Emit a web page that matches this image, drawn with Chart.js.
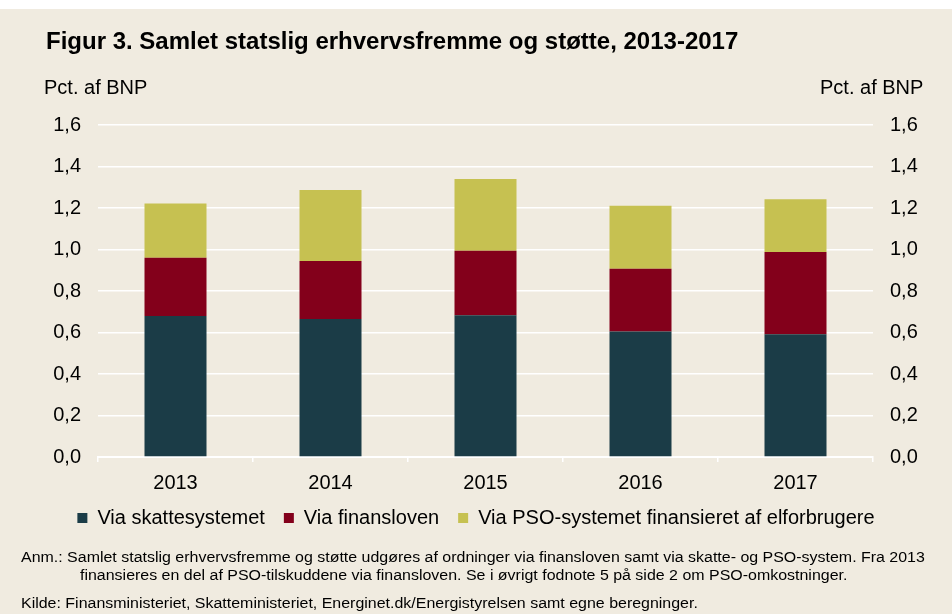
<!DOCTYPE html>
<html>
<head>
<meta charset="utf-8">
<script src="https://cdn.jsdelivr.net/npm/chart.js@4/dist/chart.umd.min.js"></script>
<style>
  html, body { margin: 0; padding: 0; background: #ffffff; }
  #wrap { position: relative; width: 952px; height: 614px; background: #ffffff; overflow: hidden; font-family: "Liberation Sans", Arial, sans-serif; color: #000; }
  #bg { position: absolute; left: 0; top: 9px; width: 952px; height: 605px; background: #f0ebe0; }
  #c { position: absolute; left: 0; top: 0; }
  .t { position: absolute; white-space: nowrap; line-height: 1; }
  #title { left: 46px; top: 29px; font-size: 24px; font-weight: bold; }
  #ylab { left: 44px; top: 77px; font-size: 20px; }
  #ylab2 { left: 820px; top: 77px; font-size: 20px; }
  .note { font-size: 14px; transform: scaleX(1.14); transform-origin: 0 0; }
</style>
</head>
<body>
<div id="wrap">
  <div id="bg"></div>
  <canvas id="c" width="952" height="614"></canvas>
  <div class="t" id="title">Figur 3. Samlet statslig erhvervsfremme og støtte, 2013-2017</div>
  <div class="t" id="ylab">Pct. af BNP</div>
  <div class="t" id="ylab2">Pct. af BNP</div>
  <div class="t note" style="left:21px; top:550px;">Anm.: Samlet statslig erhvervsfremme og støtte udgøres af ordninger via finansloven samt via skatte- og PSO-system. Fra 2013</div>
  <div class="t note" style="left:80px; top:568px;">finansieres en del af PSO-tilskuddene via finansloven. Se i øvrigt fodnote 5 på side 2 om PSO-omkostninger.</div>
  <div class="t note" style="left:21px; top:596px;">Kilde: Finansministeriet, Skatteministeriet, Energinet.dk/Energistyrelsen samt egne beregninger.</div>
</div>
<script>
const years = ["2013", "2014", "2015", "2016", "2017"];
const seriesNames = ["Via skattesystemet", "Via finansloven", "Via PSO-systemet finansieret af elforbrugere"];
const skattesystemet = [0.68, 0.665, 0.683, 0.605, 0.591];
const finansloven = [0.28, 0.28, 0.311, 0.302, 0.397];
const psoSystemet = [0.262, 0.342, 0.346, 0.304, 0.254];
const yTicks = [0, 0.2, 0.4, 0.6, 0.8, 1.0, 1.2, 1.4, 1.6];

const colors = ["#1b3c47", "#83001b", "#c6c151"];
const fontFam = '"Liberation Sans", Arial, sans-serif';

const fmt = v => v.toFixed(1).replace('.', ',');

const legendShift = {
  id: 'legendShift',
  afterLayout(chart) {
    if (chart.legend) { chart.legend.top -= 8; chart.legend.bottom -= 8; }
  }
};

new Chart(document.getElementById('c'), {
  type: 'bar',
  data: {
    labels: years,
    datasets: [
      { label: seriesNames[0], data: skattesystemet, backgroundColor: colors[0], stack: 's', yAxisID: 'y' },
      { label: seriesNames[1], data: finansloven, backgroundColor: colors[1], stack: 's', yAxisID: 'y' },
      { label: seriesNames[2], data: psoSystemet, backgroundColor: colors[2], stack: 's', yAxisID: 'y' }
    ]
  },
  plugins: [legendShift],
  options: {
    responsive: false,
    animation: false,
    events: [],
    devicePixelRatio: 1,
    barPercentage: 0.4,
    categoryPercentage: 1.0,
    layout: { padding: { left: 0, right: 0, top: 125, bottom: 68 } },
    plugins: {
      legend: {
        position: 'bottom',
        labels: {
          boxWidth: 10, boxHeight: 10, padding: 19,
          color: '#000',
          font: { family: fontFam, size: 20 }
        }
      },
      tooltip: { enabled: false },
      title: { display: false }
    },
    scales: {
      x: {
        stacked: true,
        grid: { drawOnChartArea: false, offset: true, color: '#ffffff', lineWidth: 1.5, tickLength: 5, tickColor: '#ffffff' },
        border: { display: true, color: '#ffffff', width: 2 },
        ticks: { color: '#000', font: { family: fontFam, size: 20 }, padding: 9 },
        afterFit: s => { s.height = 40; }
      },
      y: {
        position: 'left',
        stacked: true,
        min: 0, max: 1.6,
        afterBuildTicks: s => { s.ticks = yTicks.map(v => ({ value: v })); },
        grid: { color: '#ffffff', lineWidth: 1.5, drawTicks: false },
        border: { display: false },
        ticks: { color: '#000', font: { family: fontFam, size: 20 }, padding: 17, callback: v => fmt(v) },
        afterFit: s => { s.width = 98; }
      },
      y2: {
        position: 'right',
        min: 0, max: 1.6,
        afterBuildTicks: s => { s.ticks = yTicks.map(v => ({ value: v })); },
        grid: { display: false, drawTicks: false },
        border: { display: false },
        ticks: { color: '#000', font: { family: fontFam, size: 20 }, padding: 17, callback: v => fmt(v) },
        afterFit: s => { s.width = 79; }
      }
    }
  }
});
</script>
</body>
</html>
